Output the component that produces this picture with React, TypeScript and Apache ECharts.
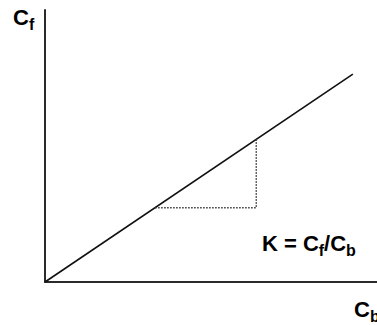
import React, { useEffect, useRef } from "react";
import * as echarts from "echarts";

// Bound concentration (x) and free concentration (y) along the isotherm
const lineCb = [0, 10.2];
const lineCf = [0, 6.88];

// Slope triangle under the line (run, then rise)
const stepCb = [3.65, 7.0, 7.0];
const stepCf = [2.46, 2.46, 4.72];

const FONT = '"Liberation Sans", Arial, Helvetica, sans-serif';
const MAIN = 22;
const SUB = 16;

type Piece = { t: string; x: number; y: number; size: number };

// Label pieces: main glyphs and their subscripts (y = glyph centre line)
const labelPieces: Piece[] = [
  // axis title, vertical
  { t: "C", x: 13, y: 17.4, size: MAIN },
  { t: "f", x: 28.9, y: 24.5, size: SUB },
  // axis title, horizontal
  { t: "C", x: 354, y: 309.4, size: MAIN },
  { t: "b", x: 369.9, y: 316.5, size: SUB },
  // K = Cf/Cb
  { t: "K", x: 262, y: 243.4, size: MAIN },
  { t: "=", x: 284, y: 243.4, size: MAIN },
  { t: "C", x: 302.9, y: 243.4, size: MAIN },
  { t: "f", x: 318.8, y: 250.5, size: SUB },
  { t: "/", x: 324.1, y: 243.4, size: MAIN },
  { t: "C", x: 330.2, y: 243.4, size: MAIN },
  { t: "b", x: 346.1, y: 250.5, size: SUB },
];

export default function App() {
  const ref = useRef<HTMLDivElement>(null);

  useEffect(() => {
    if (!ref.current) return;
    const chart = echarts.init(ref.current, null, { renderer: "svg" });

    const axisCommon = {
      type: "value" as const,
      min: 0,
      axisLine: { show: true, lineStyle: { color: "#2a2a2a", width: 2 } },
      axisTick: { show: false },
      axisLabel: { show: false },
      splitLine: { show: false },
    };

    chart.setOption({
      animation: false,
      backgroundColor: "#ffffff",
      grid: { left: 45, right: 0, top: 10, bottom: 43, containLabel: false },
      xAxis: { ...axisCommon, max: 11 },
      yAxis: { ...axisCommon, max: 9 },
      series: [
        {
          type: "line",
          data: lineCb.map((x, i) => [x, lineCf[i]]),
          symbol: "none",
          lineStyle: { color: "#111111", width: 1.6 },
          silent: true,
        },
        {
          type: "line",
          data: stepCb.map((x, i) => [x, stepCf[i]]),
          symbol: "none",
          lineStyle: { color: "#333333", width: 1.5, type: "dotted" },
          silent: true,
        },
      ],
      graphic: labelPieces.map((p) => ({
        type: "text",
        x: p.x,
        y: p.y,
        silent: true,
        style: {
          text: p.t,
          fontSize: p.size,
          fontWeight: "bold",
          fontFamily: FONT,
          fill: "#000000",
          align: "left",
          verticalAlign: "middle",
        },
      })),
    });

    return () => chart.dispose();
  }, []);

  return (
    <div
      ref={ref}
      style={{ position: "fixed", left: 0, top: 0, width: 377, height: 325 }}
    />
  );
}
